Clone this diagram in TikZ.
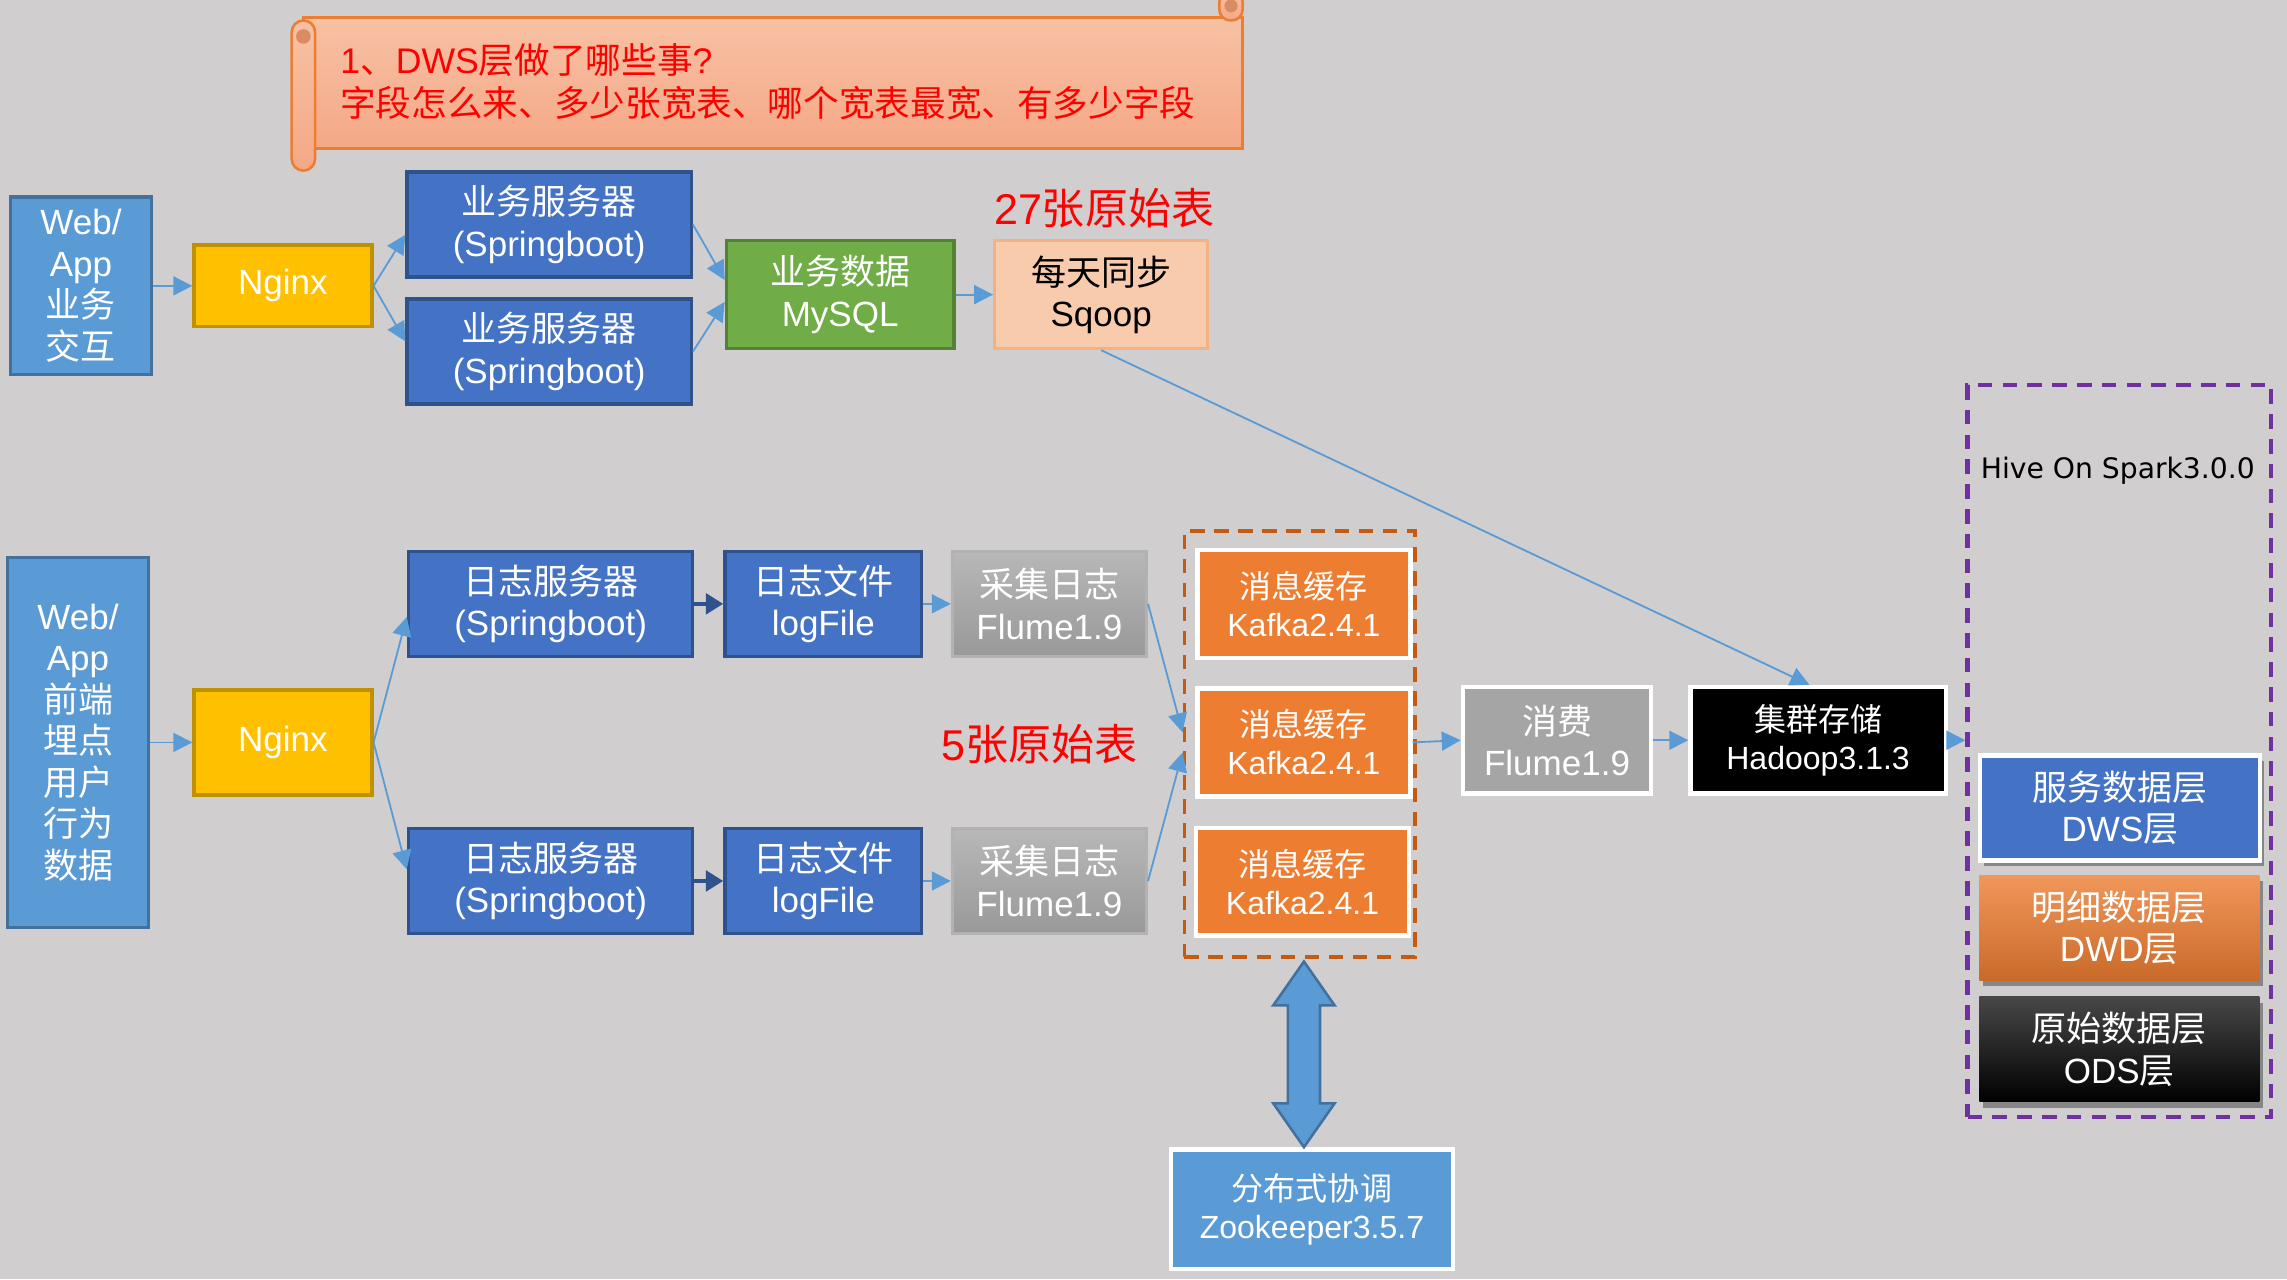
\documentclass[tikz,border=0pt]{standalone}
\usepackage{fontspec}
\setmainfont{Liberation Sans}
\newfontfamily\cjk{Noto Sans CJK SC}
\newfontfamily\hivefont{DejaVu Sans}
\usetikzlibrary{calc,arrows.meta,shadows}
\definecolor{bggray}{HTML}{D0CECE}
\definecolor{ltblue}{HTML}{5B9BD5}
\definecolor{ltblueD}{HTML}{41719C}
\definecolor{blue}{HTML}{4472C4}
\definecolor{blueD}{HTML}{2F528F}
\definecolor{gold}{HTML}{FFC000}
\definecolor{goldD}{HTML}{BF9000}
\definecolor{green}{HTML}{70AD47}
\definecolor{greenD}{HTML}{548235}
\definecolor{peach}{HTML}{F8CBAD}
\definecolor{peachD}{HTML}{F4B183}
\definecolor{orange}{HTML}{ED7D31}
\definecolor{rust}{HTML}{C55A11}
\definecolor{purple}{HTML}{7030A0}
\definecolor{gray}{HTML}{A5A5A5}
\definecolor{red}{HTML}{FF0000}
\definecolor{scrollT}{HTML}{F7C1A4}
\definecolor{scrollB}{HTML}{F4A886}
\definecolor{scrollD}{HTML}{D98B64}
\newcommand{\zh}[1]{{\cjk #1}}
\newcommand{\bigtxt}{\fontsize{13.66}{16.2}\selectfont}
\newcommand{\smalltxt}{\fontsize{12.5}{14.8}\selectfont}
\newcommand{\redtxt}{\fontsize{16.8}{20}\selectfont}

\tikzset{
  box/.style={draw,line width=0.45mm,text=white,align=center,inner sep=0pt,font=\bigtxt},
  webbox/.style={box,fill=ltblue,draw=ltblueD,minimum width=19.4mm},
  nginxbox/.style={box,fill=gold,draw=goldD,minimum width=24.4mm},
  srvbox/.style={box,fill=blue,draw=blueD,minimum width=39mm,minimum height=14.4mm},
  filebox/.style={box,fill=blue,draw=blueD,minimum width=27mm,minimum height=14.4mm},
  sqlbox/.style={box,fill=green,draw=greenD,minimum width=31.2mm,minimum height=14.8mm},
  sqoopbox/.style={box,fill=peach,draw=peachD,text=black,minimum width=29.2mm,minimum height=14.8mm},
  flumebox/.style={box,top color=black!28,bottom color=black!40,draw=black!30,minimum width=26.6mm,minimum height=14.4mm},
  kafkabox/.style={box,fill=orange,draw=white,line width=0.6mm,font=\smalltxt,minimum width=29.2mm,minimum height=14.8mm},
  consbox/.style={box,fill=gray,draw=white,line width=0.6mm,minimum width=25.8mm,minimum height=14.6mm},
  hdpbox/.style={box,fill=black,draw=white,line width=0.6mm,font=\smalltxt,minimum width=35mm,minimum height=14.6mm},
  zkbox/.style={box,fill=ltblue,draw=white,line width=0.6mm,font=\smalltxt,minimum width=38.6mm,minimum height=16.4mm},
  layerbox/.style={box,draw=none,minimum width=38.4mm,minimum height=14.4mm,
    drop shadow={shadow xshift=0.5mm,shadow yshift=-0.8mm,fill=black,opacity=0.35}},
  kgroup/.style={draw=rust,line width=0.5mm,dash pattern=on 2mm off 1.3mm,minimum width=31.6mm,minimum height=58.4mm},
  hgroup/.style={draw=purple,line width=0.6mm,dash pattern=on 2mm off 1.4mm,minimum width=41.6mm,minimum height=100.4mm},
  redlabel/.style={text=red,font=\redtxt,inner sep=0pt},
  flowline/.style={-{Triangle[length=2.6mm,width=2.6mm]},draw=ltblue,fill=ltblue,line width=0.25mm},
  darkline/.style={-{Triangle[length=2.4mm,width=2.8mm]},draw=blueD,fill=blueD,line width=0.6mm},
  scrollpaint/.style={draw=orange,line width=0.35mm,top color=scrollT,bottom color=scrollB},
  zkarrow/.style={fill=ltblue,draw=ltblueD,line width=0.35mm,line join=miter}
}

\begin{document}
\begin{tikzpicture}[x=0.2mm,y=-0.2mm]
\useasboundingbox (0,0) rectangle (1568,877);
\fill[bggray] (0,0) rectangle (1568,877);

% scroll banner
\draw[scrollpaint] (208,12) rectangle (852,102);
\draw[scrollpaint,rounded corners=1.5mm] (836,-6) rectangle (852,14);
\fill[scrollD] (844,4) circle[radius=0.9mm];
\draw[scrollpaint,rounded corners=1.6mm] (200,14) rectangle (216,117);
\fill[scrollD] (208,25) circle[radius=1mm];
\node[anchor=west,align=left,text=red,inner sep=0pt,font=\fontsize{13.9}{16.5}\selectfont] (note) at (233,56)
  {1\zh{、}DWS\zh{层做了哪些事}?\\\zh{字段怎么来、多少张宽表、哪个宽表最宽、有多少字段}};

% business data
\node[webbox,minimum height=24.4mm] (web1) at (55.5,196) {Web/\\App\\\zh{业务}\\\zh{交互}};
\node[nginxbox,minimum height=11.2mm] (ngx1) at (194,196) {Nginx};
\node[srvbox] (biz1) at (376.5,154) {\zh{业务服务器}\\(Springboot)};
\node[srvbox] (biz2) at (376.5,241) {\zh{业务服务器}\\(Springboot)};
\node[sqlbox] (mysql) at (576,202) {\zh{业务数据}\\MySQL};
\node[sqoopbox] (sqoop) at (755,202) {\zh{每天同步}\\Sqoop};
\node[redlabel] (n27) at (757,143) {27\zh{张原始表}};

% log data
\node[webbox,minimum height=50.8mm] (web2) at (53.5,509)
  {Web/\\App\\\zh{前端}\\\zh{埋点}\\\zh{用户}\\\zh{行为}\\\zh{数据}};
\node[nginxbox,minimum height=14.4mm] (ngx2) at (194,509) {Nginx};
\node[srvbox] (log1) at (377.5,414) {\zh{日志服务器}\\(Springboot)};
\node[srvbox] (log2) at (377.5,604) {\zh{日志服务器}\\(Springboot)};
\node[filebox] (file1) at (564.5,414) {\zh{日志文件}\\logFile};
\node[filebox] (file2) at (564.5,604) {\zh{日志文件}\\logFile};
\node[flumebox] (flm1) at (719.5,414) {\zh{采集日志}\\Flume1.9};
\node[flumebox] (flm2) at (719.5,604) {\zh{采集日志}\\Flume1.9};
\node[redlabel] (n5) at (713,510) {5\zh{张原始表}};

% kafka, storage, warehouse
\node[kgroup] (kfkgrp) at (891,510) {};
\node[kafkabox] (kfk1) at (894,414) {\zh{消息缓存}\\Kafka2.4.1};
\node[kafkabox] (kfk2) at (894,509) {\zh{消息缓存}\\Kafka2.4.1};
\node[kafkabox] (kfk3) at (893,604.5) {\zh{消息缓存}\\Kafka2.4.1};
\node[consbox] (cons) at (1067.5,507.5) {\zh{消费}\\Flume1.9};
\node[hdpbox] (hdp) at (1246.5,507.5) {\zh{集群存储}\\Hadoop3.1.3};
\node[hgroup] (hive) at (1453,515) {};
\node[font=\hivefont\fontsize{11}{13}\selectfont,inner sep=0pt] (hivetxt) at (1452,323) {Hive On Spark3.0.0};
\node[layerbox,fill=blue,draw=white,line width=0.6mm,drop shadow={opacity=0}] (dws) at (1453.5,554) {\zh{服务数据层}\\DWS\zh{层}};
\node[layerbox,top color=orange!80!white,bottom color=orange!85!black] (dwd) at (1453,636) {\zh{明细数据层}\\DWD\zh{层}};
\node[layerbox,top color=black!72,bottom color=black] (ods) at (1453,719.5) {\zh{原始数据层}\\ODS\zh{层}};
\node[zkbox] (zk) at (899.5,829) {\zh{分布式协调}\\Zookeeper3.5.7};

% connectors
\draw[flowline] (web1) -- (ngx1);
\draw[flowline] (ngx1.east) -- ([yshift=-1.4mm]biz1.west);
\draw[flowline] (ngx1.east) -- ([yshift=1.4mm]biz2.west);
\draw[flowline] (biz1.east) -- ([yshift=2mm]mysql.west);
\draw[flowline] (biz2.east) -- ([yshift=-1mm]mysql.west);
\draw[flowline] (mysql) -- (sqoop);
\draw[flowline] (sqoop.south) -- ([xshift=-1.2mm]hdp.north);
\draw[flowline] (web2) -- (ngx2);
\draw[flowline] (ngx2.east) -- ([yshift=-1.8mm]log1.west);
\draw[flowline] (ngx2.east) -- ([yshift=1.6mm]log2.west);
\draw[darkline] (log1) -- (file1);
\draw[darkline] (log2) -- (file2);
\draw[flowline] (file1) -- (flm1);
\draw[flowline] (file2) -- (flm2);
\draw[flowline] (flm1.east) -- ([yshift=1.6mm]kfkgrp.west);
\draw[flowline] (flm2.east) -- ([yshift=-1.2mm]kfkgrp.west);
\draw[flowline] (kfk2.east) -- (cons.west);
\draw[flowline] (cons) -- (hdp);
\draw[flowline] (hdp.east) -- (hdp.east -| hive.west);

% zookeeper double arrow
\coordinate (zt) at ($(kfkgrp.south)+(3,2)$);
\coordinate (zb) at (zt |- zk.north);
\draw[zkarrow] (zt) -- ++(21,30) -- ++(-10,0) -- ($(zb)+(11,-30)$) -- ++(10,0) -- (zb)
  -- ++(-21,-30) -- ++(10,0) -- ($(zt)+(-11,30)$) -- ++(-10,0) -- cycle;
\end{tikzpicture}
\end{document}
